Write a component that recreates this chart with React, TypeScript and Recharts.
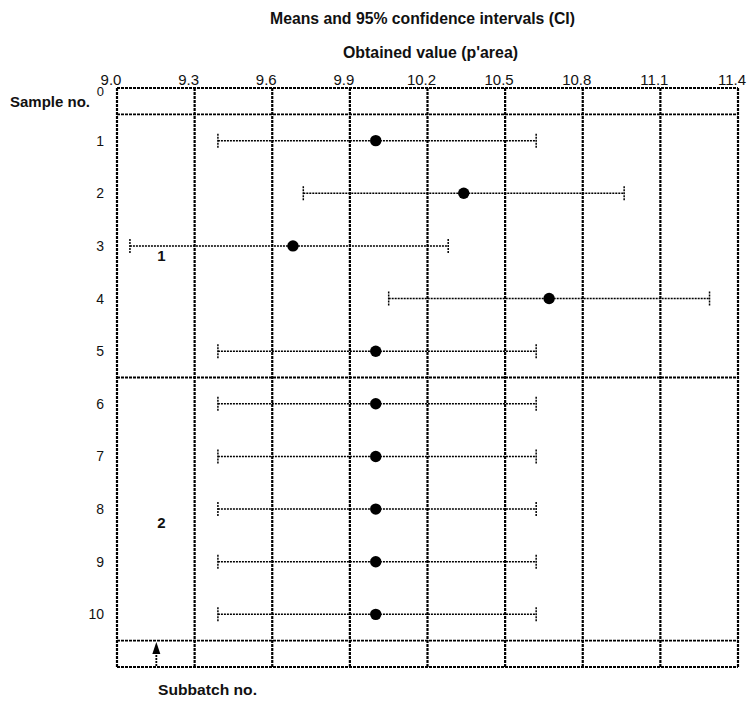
import React from 'react';
import {
  ScatterChart,
  Scatter,
  XAxis,
  YAxis,
  ErrorBar,
  ReferenceLine,
  ReferenceDot,
} from 'recharts';

const samples = [1, 2, 3, 4, 5, 6, 7, 8, 9, 10];
const means = [10.0, 10.34, 9.68, 10.67, 10.0, 10.0, 10.0, 10.0, 10.0, 10.0];
const lows = [9.39, 9.72, 9.05, 10.05, 9.39, 9.39, 9.39, 9.39, 9.39, 9.39];
const highs = [10.62, 10.96, 10.28, 11.29, 10.62, 10.62, 10.62, 10.62, 10.62, 10.62];

const xMajorTicks = [9.0, 9.3, 9.6, 9.9, 10.2, 10.5, 10.8, 11.1, 11.4];
const xMinorTicks = [
  9.0, 9.1, 9.2, 9.3, 9.4, 9.5, 9.6, 9.7, 9.8, 9.9, 10.0, 10.1, 10.2, 10.3, 10.4,
  10.5, 10.6, 10.7, 10.8, 10.9, 11.0, 11.1, 11.2, 11.3, 11.4,
];
const yTickLabels = [0, 1, 2, 3, 4, 5, 6, 7, 8, 9, 10];
const yInnerTicks = [1, 2, 3, 4, 5, 6, 7, 8, 9, 10];
const ySeparators = [0.5, 5.5, 10.5];
const yBorders = [0, 11];
const subbatches = [
  { label: '1', x: 9.172, y: 3.19 },
  { label: '2', x: 9.172, y: 8.255 },
];
const arrowX = 9.152;

const data = samples.map((s, i) => ({
  sample: s,
  mean: means[i],
  err: [means[i] - lows[i], highs[i] - means[i]],
}));

const FONT = '"Liberation Sans", Arial, sans-serif';
const DOT_LINE = '3 1';

const XTick = (props: any) => {
  const { x, y, payload } = props;
  return (
    <text x={x - 6} y={y} textAnchor="middle" fontSize={15} fontFamily={FONT} fill="#111">
      {Number(payload.value).toFixed(1)}
    </text>
  );
};

const YTick = (props: any) => {
  const { x, y, payload } = props;
  if (payload.value === 0) {
    return (
      <text x={x} y={y + 8} fontSize={13} fontFamily={FONT} fill="#111" textAnchor="end">
        0
      </text>
    );
  }
  return (
    <text x={x} y={y} dy="0.36em" fontSize={14} fontFamily={FONT} fill="#111" textAnchor="end">
      {payload.value}
    </text>
  );
};

export default function App() {
  return (
    <div style={{ position: 'absolute', left: 0, top: 0, width: 748, height: 702 }}>
      <ScatterChart width={748} height={702} margin={{ top: 0, right: 10, bottom: 35, left: 0 }}>
        <XAxis
          xAxisId="main"
          type="number"
          dataKey="mean"
          orientation="top"
          height={88}
          domain={[9, 11.4]}
          ticks={xMajorTicks}
          interval={0}
          tick={<XTick />}
          tickLine={false}
          axisLine={false}
          tickSize={0}
          tickMargin={3}
          allowDataOverflow
        />
        <XAxis
          xAxisId="minor"
          type="number"
          dataKey="mean"
          orientation="top"
          mirror
          domain={[9, 11.4]}
          ticks={xMinorTicks}
          interval={0}
          tick={false}
          axisLine={false}
          tickSize={5}
          tickLine={{ stroke: '#000', strokeWidth: 1.5 }}
          allowDataOverflow
        />
        <YAxis
          yAxisId="main"
          type="number"
          dataKey="sample"
          reversed
          width={117}
          domain={[0, 11]}
          ticks={yTickLabels}
          interval={0}
          tick={<YTick />}
          tickLine={false}
          axisLine={false}
          tickSize={0}
          tickMargin={13}
          allowDataOverflow
        />
        <YAxis
          yAxisId="inner"
          type="number"
          dataKey="sample"
          reversed
          mirror
          domain={[0, 11]}
          ticks={yInnerTicks}
          interval={0}
          tick={false}
          axisLine={false}
          tickSize={6}
          tickLine={{ stroke: '#000', strokeWidth: 2 }}
          allowDataOverflow
        />

        {xMajorTicks.map((v) => (
          <ReferenceLine
            key={'v' + v}
            xAxisId="main"
            yAxisId="main"
            x={v}
            stroke="#000"
            strokeWidth={2.2}
            strokeDasharray={DOT_LINE}
          />
        ))}
        {ySeparators.map((v) => (
          <ReferenceLine
            key={'s' + v}
            xAxisId="main"
            yAxisId="main"
            y={v}
            stroke="#000"
            strokeWidth={1.8}
            strokeDasharray={DOT_LINE}
          />
        ))}
        {yBorders.map((v) => (
          <ReferenceLine
            key={'b' + v}
            xAxisId="main"
            yAxisId="main"
            y={v}
            stroke="#000"
            strokeWidth={2.2}
            strokeDasharray={DOT_LINE}
          />
        ))}

        <ReferenceLine
          xAxisId="main"
          yAxisId="main"
          segment={[
            { x: arrowX, y: 10.98 },
            { x: arrowX, y: 10.7 },
          ]}
          stroke="#000"
          strokeWidth={1.8}
          strokeDasharray="2 1"
        />
        <ReferenceDot
          xAxisId="main"
          yAxisId="main"
          x={arrowX}
          y={10.525}
          shape={(p: any) => (
            <polygon
              points={`${p.cx},${p.cy} ${p.cx - 4},${p.cy + 12} ${p.cx + 4},${p.cy + 12}`}
              fill="#000"
            />
          )}
        />
        {subbatches.map((s) => (
          <ReferenceDot
            key={'sb' + s.label}
            xAxisId="main"
            yAxisId="main"
            x={s.x}
            y={s.y}
            shape={(p: any) => (
              <text
                x={p.cx}
                y={p.cy}
                dy="0.36em"
                textAnchor="middle"
                fontSize={15}
                fontWeight="bold"
                fontFamily={FONT}
                fill="#111"
              >
                {s.label}
              </text>
            )}
          />
        ))}

        <Scatter
          xAxisId="main"
          yAxisId="main"
          data={data}
          dataKey="mean"
          fill="#000"
          isAnimationActive={false}
          shape={(p: any) => <circle cx={p.cx} cy={p.cy} r={5.7} fill="#000" />}
        >
          <ErrorBar
            dataKey="err"
            direction="x"
            width={7}
            stroke="#000"
            strokeWidth={1.5}
            strokeDasharray="2 1"
            isAnimationActive={false}
          />
        </Scatter>

        <text
          x={270}
          y={24}
          fontSize={16}
          fontWeight="bold"
          fontFamily={FONT}
          fill="#111"
          textLength={305}
          lengthAdjust="spacingAndGlyphs"
        >
          Means and 95% confidence intervals (CI)
        </text>
        <text
          x={343}
          y={58}
          fontSize={16}
          fontWeight="bold"
          fontFamily={FONT}
          fill="#111"
          textLength={175}
          lengthAdjust="spacingAndGlyphs"
        >
          Obtained value (p'area)
        </text>
        <text
          x={10}
          y={107}
          fontSize={15}
          fontWeight="bold"
          fontFamily={FONT}
          fill="#111"
          textLength={80}
          lengthAdjust="spacingAndGlyphs"
        >
          Sample no.
        </text>
        <text
          x={158}
          y={695}
          fontSize={15}
          fontWeight="bold"
          fontFamily={FONT}
          fill="#111"
          textLength={99}
          lengthAdjust="spacingAndGlyphs"
        >
          Subbatch no.
        </text>
      </ScatterChart>
    </div>
  );
}
